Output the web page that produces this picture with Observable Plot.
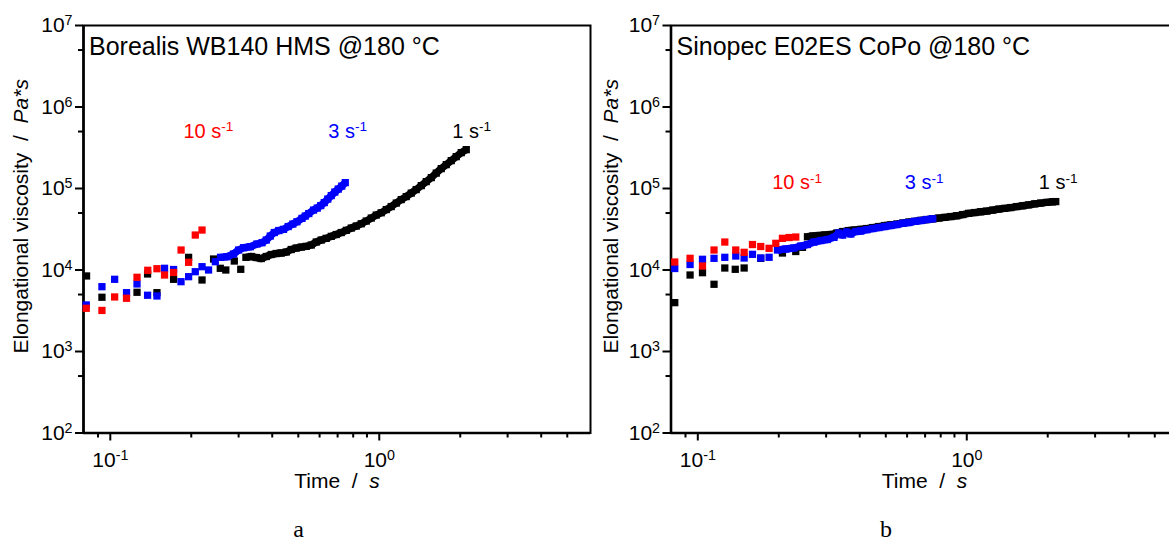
<!DOCTYPE html>
<html><head><meta charset="utf-8">
<script src="https://cdn.jsdelivr.net/npm/d3@7"></script>
<script src="https://cdn.jsdelivr.net/npm/@observablehq/plot@0.6"></script>
<style>
html,body{margin:0;padding:0;background:#fff;overflow:hidden;}
#wrap{position:relative;width:1169px;height:541px;overflow:hidden;background:#fff;}
#wrap svg{position:absolute;top:0;max-width:none;}
</style></head><body><div id="wrap"></div>
<script>
// ---------- data: [time (s), elongational viscosity (Pa*s)] ----------
const boreal1 = [[0.0816,8450],[0.0931,4630],[0.1257,5330],[0.1376,8940],[0.1491,5270],[0.1719,7690],[0.1955,14300],[0.2193,7540],[0.2421,13640],[0.2564,10490],[0.2688,10000],[0.2891,12890],[0.3055,10200],[0.3193,14310],
[0.3344,14640],[0.3490,14230],[0.3642,13830],[0.3801,14640],[0.3967,15490],[0.4141,15930],[0.4321,16160],[0.4510,16620],[0.4707,17840],[0.4913,18600],[0.5129,19130],[0.5353,19510],[0.5587,20250],[0.5831,22030],[0.6086,23320],[0.6353,24460],[0.6631,25880],[0.6920,27230],[0.7224,28820],[0.7540,30660],[0.7870,32720],[0.8214,34610],[0.8573,36940],[0.8947,39860],[0.9338,43380],[0.9746,47210],[1.017,50380],[1.062,55130],[1.108,60010],[1.157,66250],[1.207,73110],[1.260,79560],[1.315,87820],[1.372,96940],[1.433,108500],[1.495,121500],[1.561,136000],[1.629,154500],[1.700,175400],[1.775,196300],[1.852,219800],[1.933,245900],[2.018,275400],[2.106,299700]];
const boreal3 = [[0.0814,3725],[0.0931,6240],[0.1038,7690],[0.1149,5270],[0.1257,6740],[0.1376,4900],[0.1491,4800],[0.1591,10490],[0.1719,10140],[0.1832,7190],[0.1955,8280],[0.207,9530],[0.2193,10980],[0.2319,10000],[0.2457,12640],[0.2570,14310],[0.2715,14550],[0.2873,15710],[0.2999,17590],[0.3130,18760],[0.3315,19300],[0.3510,20830],[0.3665,21610],[0.3801,23320],[0.3934,26110],[0.4072,28820],[0.4230,30490],[0.4406,31530],[0.4588,34130],[0.4771,36620],[0.4943,39080],[0.5160,43020],[0.5308,45900],[0.5469,49250],[0.5698,54360],[0.5882,57520],[0.6060,61710],[0.6245,67190],[0.6435,74160],[0.6631,81850],[0.6833,90340],[0.7040,98310],[0.7254,107000],[0.7475,118100]];
const boreal10 = [[0.0814,3390],[0.0931,3190],[0.1038,4670],[0.1149,4500],[0.1257,8140],[0.1378,9920],[0.1491,10370],[0.1591,8680],[0.1719,9320],[0.1833,17590],[0.1955,12430],[0.207,26850],[0.2193,30920]];

const sino1 = [[0.0821,3975],[0.0936,8680],[0.1041,9270],[0.1149,6680],[0.1260,10580],[0.1378,10200],[0.1487,10580],[0.1714,13910],[0.2064,16160],[0.2313,16860],[0.2450,18970],
[0.2557,25590],[0.2676,26110],[0.2817,26480],[0.2966,26850],[0.3122,27230],[0.3287,28410],[0.3459,29640],[0.3642,30490],[0.3834,30920],[0.4036,31530],[0.4248,32260],[0.4472,33180],[0.4708,34130],[0.4956,35120],[0.5218,35810],[0.5493,36620],[0.5782,37670],[0.6086,38750],[0.6407,39530],[0.6745,40660],[0.7100,41590],[0.7475,42530],[0.7870,43380],[0.8284,44240],[0.8720,45240],[0.9180,46270],[0.9663,47860],[1.017,49540],[1.071,50680],[1.127,51820],[1.187,52850],[1.249,54360],[1.315,55910],[1.384,57030],[1.457,58330],[1.534,60000],[1.615,61380],[1.700,62950],[1.789,64760],[1.884,66250],[1.983,67570],[2.087,68710],[2.142,69100]];
const sino3 = [[0.0821,10430],[0.0936,11680],[0.1041,13530],[0.1149,13910],[0.1260,14310],[0.1384,14850],[0.1487,14030],[0.1597,15570],[0.1714,14030],[0.1841,14310],[0.1978,17590],[0.2124,18090],[0.2275,18600],[0.2415,19690],[0.2557,20530],[0.2705,22030],[0.2866,22990],[0.3034,23650],[0.3210,25160],[0.3344,28410],[0.3459,26850],[0.3579,29220],[0.3705,27620],[0.3868,29640],[0.4036,30060],[0.4248,31180],[0.4472,32260],[0.4708,33180],[0.4956,34130],[0.5218,35120],[0.5493,36120],[0.5782,37360],[0.6086,38210],[0.6407,39530],[0.6745,40430],[0.7100,41590],[0.7475,42530]];
const sino10 = [[0.0821,12530],[0.0936,13910],[0.1041,11190],[0.1149,17590],[0.1260,22030],[0.1384,17590],[0.1487,16480],[0.1597,20530],[0.1714,19410],[0.1841,18450],[0.1950,21250],[0.2064,24460],[0.2185,25020],[0.2313,25380]];

// time from which the measured points merge into a continuous band
const bandStartA = {black: 0.319, blue: 0.257};
const bandStartB = {black: 0.255, blue: 0.197};

const rateLabels = ["10 s^-1", "3 s^-1", "1 s^-1"];
const rateColors = ["#ff0000", "#0000ff", "#000000"];
const labelTimeA = [0.187, 0.646, 1.868];
const labelEtaA = [5e5, 5e5, 5e5];
const labelTimeB = [0.189, 0.588, 1.852];
const labelEtaB = [1.17e5, 1.17e5, 1.17e5];

const xDomain = [0.0795, 6.1];
const yDomain = [100, 1e7];
const xMajor = [0.1, 1];
const xMinor = [0.09, 0.2, 0.3, 0.4, 0.5, 0.6, 0.7, 0.8, 0.9, 2, 3, 4, 5];
const yMajor = [1e2, 1e3, 1e4, 1e5, 1e6, 1e7];
const yMinor = [5e2, 5e3, 5e4, 5e5, 5e6];
const titles = ["Borealis WB140 HMS @180 °C", "Sinopec E02ES CoPo @180 °C"];
const letters = ["a", "b"];
const yLabel = "Elongational viscosity  /  ~Pa*s~";
const xLabel = "Time  /  ~s~";

// ---------- drawing ----------
const NS = "http://www.w3.org/2000/svg";
const pow10 = d => `10^${Math.round(Math.log10(d))}`;
const sq = (data, fill) => Plot.dot(data, {x: d => d[0], y: d => d[1], symbol: "square", r: 4.1, fill, stroke: "none"});
const band = (data, from, stroke) => Plot.line(data.filter(d => d[0] >= from), {x: d => d[0], y: d => d[1], stroke, strokeWidth: 7.4, strokeLinejoin: "round", strokeLinecap: "butt"});

function rich(svg) {
  svg.querySelectorAll("text").forEach(t => {
    const s = t.textContent;
    if (!/[\^~]/.test(s)) return;
    const [main, sup] = s.split("^");
    t.textContent = "";
    main.split("~").forEach((p, i) => {
      if (!p) return;
      const ts = document.createElementNS(NS, "tspan");
      if (i % 2 === 1) ts.setAttribute("font-style", "italic");
      ts.textContent = p;
      t.appendChild(ts);
    });
    if (sup !== undefined) {
      const ts = document.createElementNS(NS, "tspan");
      ts.setAttribute("font-size", "0.68em");
      ts.setAttribute("dy", "-0.5em");
      ts.textContent = sup;
      t.appendChild(ts);
    }
  });
}

function panel({black, blue, red, bs, lt, le, title, letter, ml, ylo, left}) {
  const labels = rateLabels.map((text, i) => ({text, t: lt[i], eta: le[i], color: rateColors[i]}));
  const svg = Plot.plot({
    width: ml + 507 + 10, height: 541,
    marginLeft: ml, marginRight: 10, marginTop: 25, marginBottom: 108.5,
    style: {fontFamily: "'Liberation Sans', Arial, sans-serif", fontSize: "21px", color: "black", background: "white", overflow: "visible"},
    x: {type: "log", domain: xDomain},
    y: {type: "log", domain: yDomain},
    marks: [
      Plot.axisY({ticks: yMajor, tickSize: 8, tickPadding: 3, tickFormat: pow10, label: null, strokeWidth: 2, fontSize: 21}),
      Plot.axisY({ticks: yMinor, tickSize: 5, tickFormat: () => "", label: null, strokeWidth: 2}),
      Plot.axisX({ticks: xMajor, tickSize: 8, tickPadding: 11, tickFormat: pow10, label: null, strokeWidth: 2, fontSize: 21}),
      Plot.axisX({ticks: xMinor, tickSize: 5, tickFormat: () => "", label: null, strokeWidth: 2}),
      Plot.frame({stroke: "black", strokeWidth: 2}),
      Plot.ruleX([xDomain[0]], {stroke: "black", strokeWidth: 2.6}),
      Plot.ruleY([yDomain[0]], {stroke: "black", strokeWidth: 2.6}),
      band(black, bs.black, "#000000"),
      sq(black, "#000000"),
      band(blue, bs.blue, "#0000ff"),
      sq(blue, "#0000ff"),
      sq(red, "#ff0000"),
      Plot.text(labels, {x: "t", y: "eta", text: "text", fill: "color", textAnchor: "start", lineAnchor: "middle", fontSize: 20}),
      Plot.text([title], {text: d => d, frameAnchor: "top-left", textAnchor: "start", lineAnchor: "bottom", dx: 5.5, dy: 29.5, fontSize: 25}),
      Plot.text([yLabel], {text: d => d, frameAnchor: "left", rotate: -90, textAnchor: "middle", lineAnchor: "top", dx: -ylo, dy: -13, fontSize: 21}),
      Plot.text([xLabel], {text: d => d, frameAnchor: "bottom", textAnchor: "middle", lineAnchor: "top", dy: 40.5, fontSize: 21}),
      Plot.text([letter], {text: d => d, frameAnchor: "bottom", textAnchor: "middle", lineAnchor: "bottom", dx: -38.5, dy: 103.5, fontSize: 24, fontFamily: "'Liberation Serif', 'Times New Roman', serif"})
    ]
  });
  rich(svg);
  svg.style.left = left + "px";
  document.getElementById("wrap").appendChild(svg);
}

panel({black: boreal1, blue: boreal3, red: boreal10, bs: bandStartA, lt: labelTimeA, le: labelEtaA, title: titles[0], letter: letters[0], ml: 83, ylo: 70, left: 0});
panel({black: sino1, blue: sino3, red: sino10, bs: bandStartB, lt: labelTimeB, le: labelEtaB, title: titles[1], letter: letters[1], ml: 70.5, ylo: 67.5, left: 600});
</script></body></html>
